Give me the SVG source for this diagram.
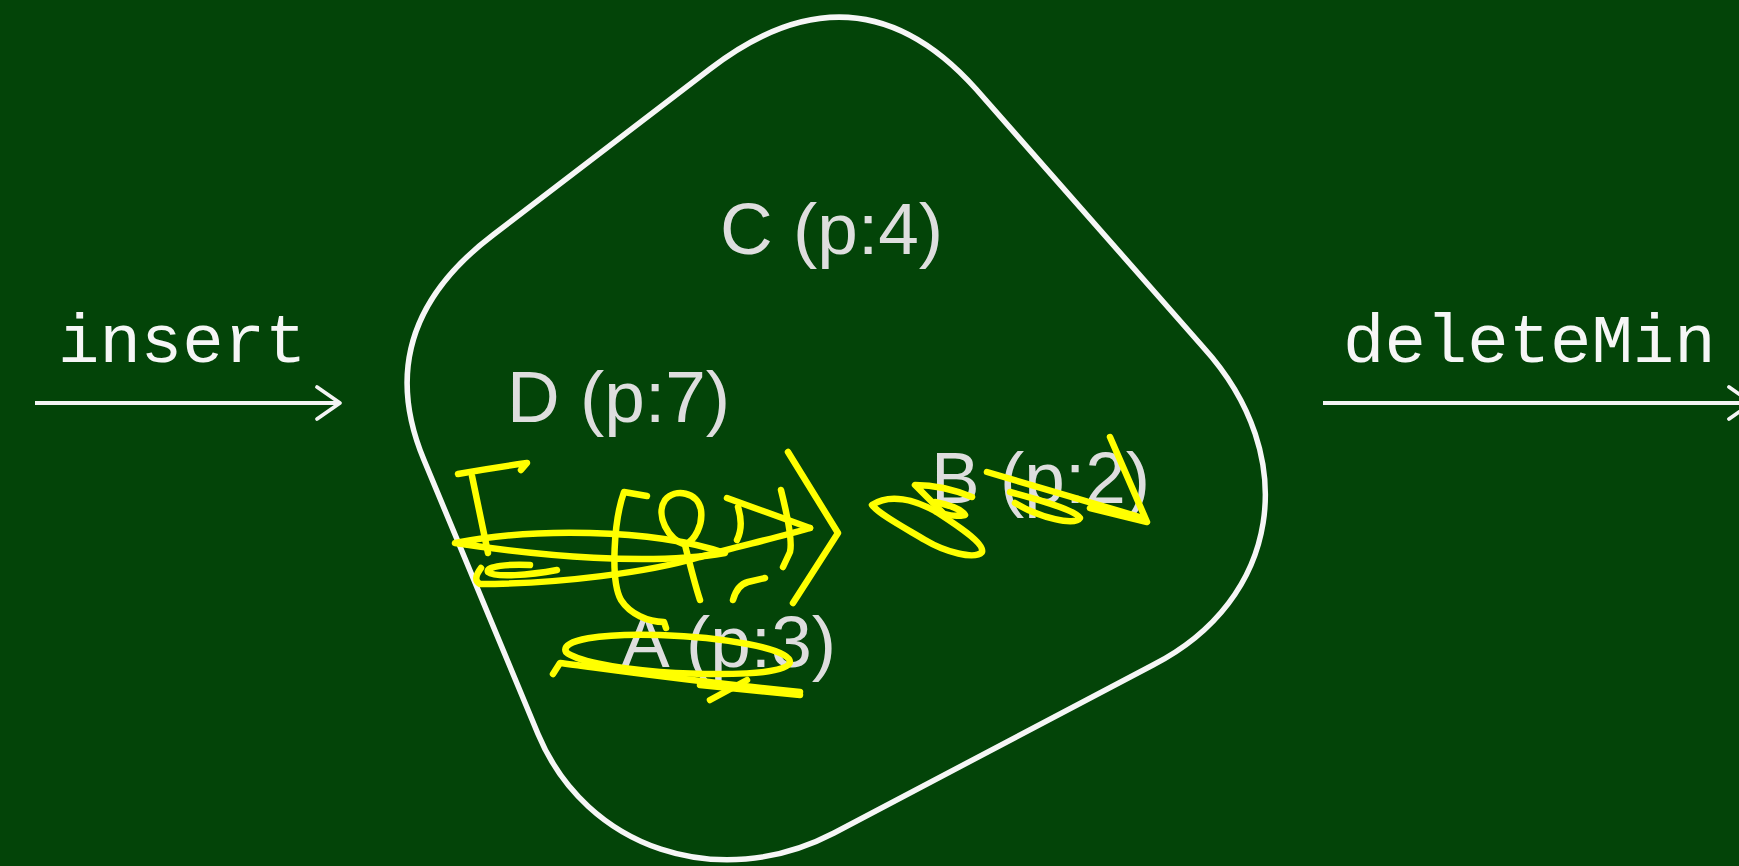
<svg xmlns="http://www.w3.org/2000/svg" width="1739" height="866" viewBox="0 0 1739 866">
  <style>
    .chalk { fill: none; stroke: #f6f6f6; stroke-width: 5.5; stroke-linejoin: round; stroke-linecap: round; }
    .arrow { fill: none; stroke: #f4f4f4; stroke-width: 3.8; }
    .op { font-family: "Liberation Mono", "DejaVu Sans Mono", monospace; font-size: 69px; fill: #f6f6f6; }
    .item { font-family: "Liberation Sans", Arial, sans-serif; font-size: 73px; fill: #dedede; }
    .ink { fill: none; stroke: #ffff00; stroke-width: 6.5; stroke-linecap: round; stroke-linejoin: round; }
  </style>
  <defs>
    <marker id="head" markerUnits="userSpaceOnUse" viewBox="-26 -19 30 38" refX="0" refY="0" markerWidth="30" markerHeight="38" orient="auto" overflow="visible">
      <path d="M -23,-16 L 0,0 L -23,16" fill="none" stroke="#f4f4f4" stroke-width="3.8" stroke-linecap="round" stroke-linejoin="round"/>
    </marker>
  </defs>
  <rect x="0" y="0" width="1739" height="866" fill="#034408"/>

  <g id="connectors">
    <path class="arrow" d="M 35,403 L 340,403" marker-end="url(#head)"/>
    <path class="arrow" d="M 1323,403 L 1752,403" marker-end="url(#head)"/>
    <text class="op" x="58" y="362">insert</text>
    <text class="op" x="1343" y="362">deleteMin</text>
  </g>

  <g id="queue">
    <path class="chalk" d="M 710,69 Q 857,-44 976,89 L 1203,347 C 1303,457 1280,600 1153,665 L 834,833 C 719,893 586,849 538,734 L 424,460 Q 369,329 493,235 Z"/>
  </g>

  <g id="item-C"><text class="item" x="720" y="254">C (p:4)</text></g>
  <g id="item-D"><text class="item" x="507" y="422">D (p:7)</text></g>
  <g id="item-B"><text class="item" x="931" y="503">B (p:2)</text></g>
  <g id="item-A"><text class="item" x="621" y="667">A (p:3)</text></g>

  <g id="scribbles">
    <path class="ink" d="M 458,474 C 480,470 505,466 527,463 L 521,470"/>
    <path class="ink" d="M 472,476 L 488,553"/>
    <path class="ink" d="M 455,543 C 530,528 650,528 725,553 C 650,566 540,556 455,543 Z"/>
    <path class="ink" d="M 557,570 C 530,575 495,578 488,572 C 485,566 510,564 530,565"/>
    <path class="ink" d="M 481,568 Q 472,580 480,584 C 560,584 650,572 700,557 C 740,546 780,537 810,528"/>
    <path class="ink" d="M 727,498 L 810,528"/>
    <path class="ink" d="M 738,507 C 742,520 741,532 737,540"/>
    <path class="ink" d="M 647,496 L 624,492 C 614,520 610,580 621,600 C 630,614 648,622 664,622 L 666,628"/>
    <path class="ink" d="M 686,545 C 668,540 655,515 665,500 C 675,488 698,492 701,510 C 703,525 695,540 685,545 C 690,565 695,585 700,600"/>
    <path class="ink" d="M 781,490 C 786,510 793,540 790,552 L 783,567"/>
    <path class="ink" d="M 733,600 Q 737,585 748,582 L 765,578"/>
    <path class="ink" d="M 788,452 L 838,533 L 793,603"/>

    <path class="ink" d="M 872,505 C 890,493 915,500 935,511 C 955,524 985,543 982,552 C 975,560 945,552 925,540 C 905,528 880,515 872,505 Z"/>
    <path class="ink" d="M 942,512 L 915,485 C 935,485 955,490 972,497"/>
    <path class="ink" d="M 935,502 C 950,505 962,510 965,515 C 955,517 945,515 940,512"/>
    <path class="ink" d="M 987,472 L 1143,518"/>
    <path class="ink" d="M 1010,492 C 1040,500 1075,510 1080,518 C 1075,526 1040,518 1015,503"/>
    <path class="ink" d="M 1110,437 L 1147,522 L 1090,508"/>

    <path class="ink" d="M 566,652 C 560,640 600,633 660,635 C 720,637 790,648 790,662 C 788,675 720,676 660,672 C 610,668 575,660 566,652 Z"/>
    <path class="ink" d="M 553,674 L 560,663 C 600,668 680,680 800,692"/>
    <path class="ink" d="M 700,685 L 800,695"/>
    <path class="ink" d="M 710,700 L 747,680"/>
  </g>
</svg>
